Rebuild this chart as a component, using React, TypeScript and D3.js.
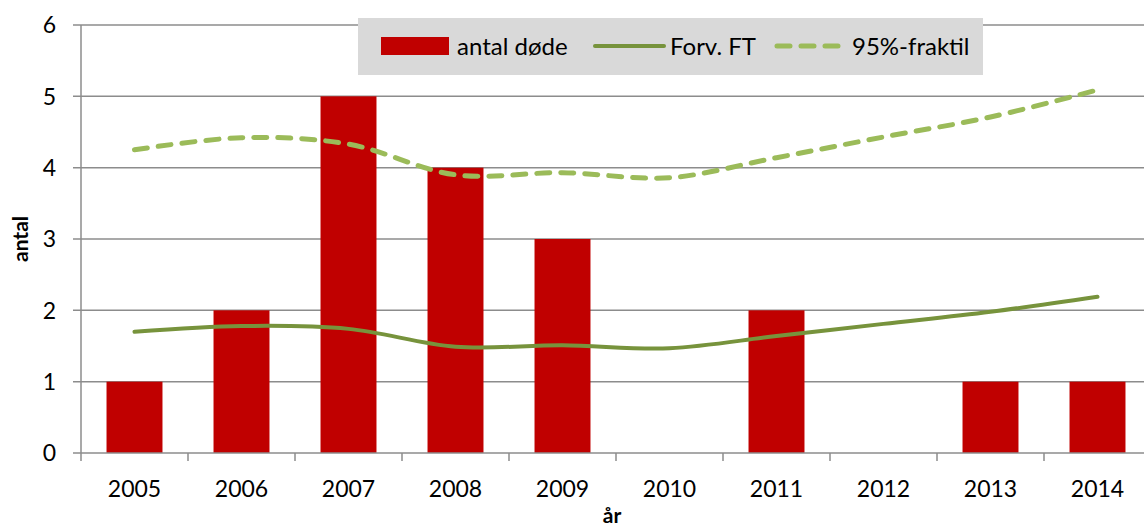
import React, { useEffect, useRef } from "react";
import * as d3 from "d3";

const years = ["2005", "2006", "2007", "2008", "2009", "2010", "2011", "2012", "2013", "2014"];
const deaths = [1, 2, 5, 4, 3, 0, 2, 0, 1, 1];
const forvFT = [1.7, 1.78, 1.74, 1.49, 1.51, 1.47, 1.64, 1.81, 1.98, 2.19];
const fraktil = [4.25, 4.42, 4.33, 3.9, 3.93, 3.86, 4.14, 4.43, 4.71, 5.09];
const yTicks = [0, 1, 2, 3, 4, 5, 6];
const legendLabels = ["antal døde", "Forv. FT", "95%-fraktil"];

const W = 1144;
const H = 527;
const FONT = "Lato, 'Open Sans', sans-serif";

export default function App() {
  const ref = useRef<SVGSVGElement>(null);

  useEffect(() => {
    const svg = d3.select(ref.current);
    svg.selectAll("*").remove();

    const left = 81, top = 25, bottom = 453, right = 81 + 107 * 10;
    const x = d3.scaleBand<string>().domain(years).range([left, right]).paddingInner(0.477).paddingOuter(0.2385);
    const xb = d3.scaleBand<string>().domain(years).range([left, right]);
    const y = d3.scaleLinear().domain([0, 6]).range([bottom, top]);
    const grid = "#8c8c8c";

    svg.append("g").selectAll("line").data(yTicks.filter(d => d > 0)).join("line")
      .attr("x1", left - 8).attr("x2", right)
      .attr("y1", d => y(d)).attr("y2", d => y(d))
      .attr("stroke", grid).attr("stroke-width", 1.5);

    svg.append("g").selectAll("rect").data(deaths).join("rect")
      .attr("x", (_, i) => x(years[i])!)
      .attr("width", x.bandwidth())
      .attr("y", d => y(d))
      .attr("height", d => bottom - y(d))
      .attr("fill", "#c00000");

    svg.append("line").attr("x1", left).attr("x2", left).attr("y1", top).attr("y2", bottom + 8)
      .attr("stroke", grid).attr("stroke-width", 1.5);
    svg.append("line").attr("x1", left - 8).attr("x2", right).attr("y1", bottom).attr("y2", bottom)
      .attr("stroke", grid).attr("stroke-width", 1.5);
    svg.append("g").selectAll("line").data(years.slice(1)).join("line")
      .attr("x1", d => xb(d)!).attr("x2", d => xb(d)!)
      .attr("y1", bottom).attr("y2", bottom + 8)
      .attr("stroke", grid).attr("stroke-width", 1.5);

    svg.append("g").selectAll("text").data(yTicks).join("text")
      .attr("x", left - 25).attr("y", d => y(d)).attr("dy", "0.36em")
      .attr("text-anchor", "end").attr("font-family", FONT).attr("font-size", 23)
      .text(d => d);

    svg.append("g").selectAll("text").data(years).join("text")
      .attr("x", d => xb(d)! + xb.bandwidth() / 2).attr("y", bottom + 44)
      .attr("text-anchor", "middle").attr("font-family", FONT).attr("font-size", 23)
      .text(d => d);

    svg.append("text").attr("transform", `translate(28,${(top + bottom) / 2}) rotate(-90)`)
      .attr("text-anchor", "middle").attr("font-family", FONT).attr("font-size", 21).attr("font-weight", "bold")
      .text("antal");
    svg.append("text").attr("x", 612).attr("y", 523)
      .attr("text-anchor", "middle").attr("font-family", FONT).attr("font-size", 21).attr("font-weight", "bold")
      .text("år");

    const cx = (i: number) => xb(years[i])! + xb.bandwidth() / 2;
    const line = d3.line<number>().x((_, i) => cx(i)).y(d => y(d)).curve(d3.curveCatmullRom.alpha(0.5));

    svg.append("path").attr("d", line(forvFT)!).attr("fill", "none")
      .attr("stroke", "#77933c").attr("stroke-width", 4).attr("stroke-linecap", "round");
    svg.append("path").attr("d", line(fraktil)!).attr("fill", "none")
      .attr("stroke", "#9bbb59").attr("stroke-width", 5).attr("stroke-linecap", "round")
      .attr("stroke-dasharray", "13 11");

    const lg = svg.append("g");
    lg.append("rect").attr("x", 358).attr("y", 18).attr("width", 625).attr("height", 57).attr("fill", "#d9d9d9");
    const ly = 46;
    lg.append("rect").attr("x", 381).attr("y", ly - 9).attr("width", 68).attr("height", 18).attr("fill", "#c00000");
    lg.append("line").attr("x1", 595).attr("x2", 664).attr("y1", ly).attr("y2", ly)
      .attr("stroke", "#77933c").attr("stroke-width", 4).attr("stroke-linecap", "round");
    lg.append("line").attr("x1", 777).attr("x2", 838).attr("y1", ly).attr("y2", ly)
      .attr("stroke", "#9bbb59").attr("stroke-width", 5).attr("stroke-linecap", "round")
      .attr("stroke-dasharray", "13 11");
    const lx = [457, 670, 852];
    lg.selectAll("text.l").data(legendLabels).join("text")
      .attr("x", (_, i) => lx[i]).attr("y", ly).attr("dy", "0.36em")
      .attr("font-family", FONT).attr("font-size", 24)
      .text(d => d);
  }, []);

  return (
    <svg ref={ref} width={W} height={H}
      style={{ position: "absolute", left: 0, top: 0, background: "#fff" }} />
  );
}
